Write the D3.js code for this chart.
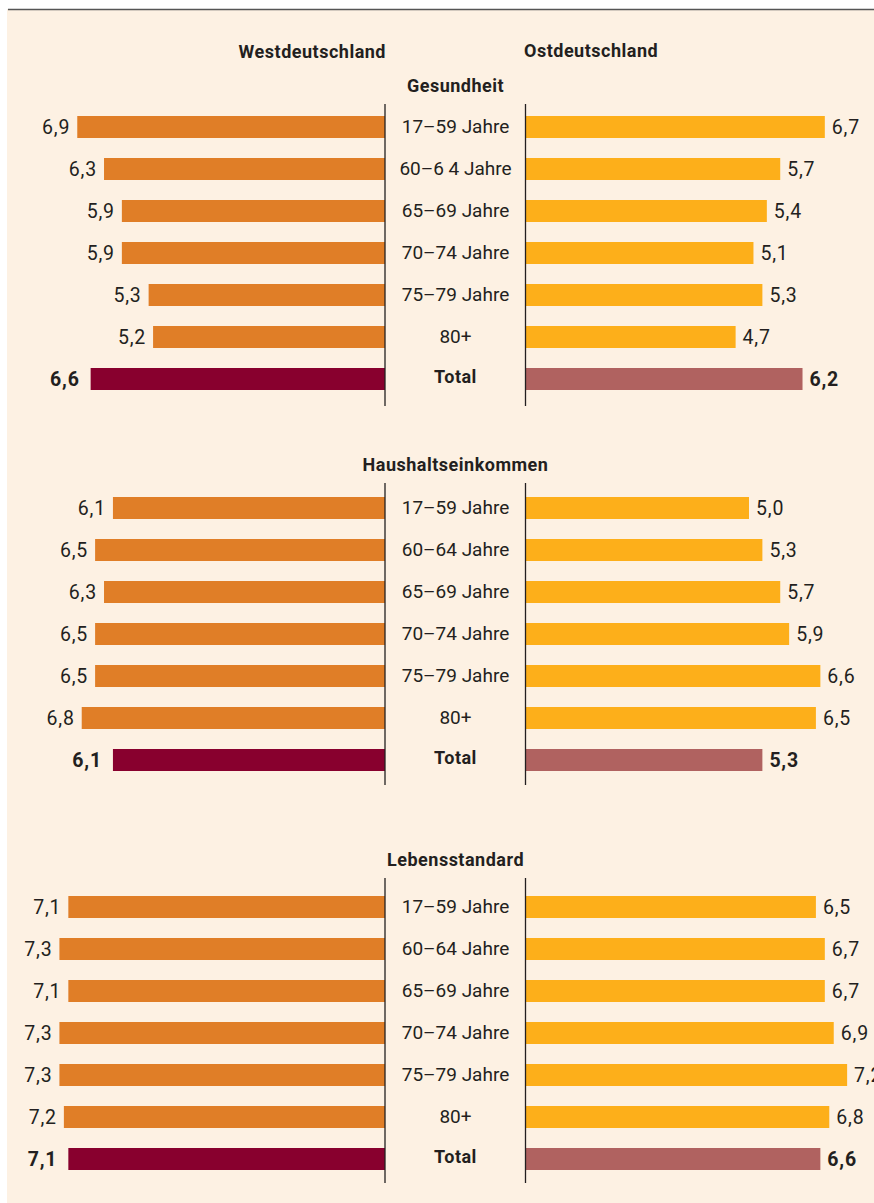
<!DOCTYPE html>
<html>
<head>
<meta charset="utf-8">
<script src="https://cdn.jsdelivr.net/npm/d3@7"></script>
<style>
  html, body { margin: 0; padding: 0; background: #fff; }
  svg { display: block; }
  text { font-family: Roboto, "DejaVu Sans", sans-serif; fill: #231f20; }
</style>
</head>
<body>
<div id="chart"></div>
<script>
// data
const panelTitles = ["Gesundheit", "Haushaltseinkommen", "Lebensstandard"];
const categoriesGesundheit = ["17–59 Jahre", "60–6 4 Jahre", "65–69 Jahre", "70–74 Jahre", "75–79 Jahre", "80+", "Total"];
const categories = ["17–59 Jahre", "60–64 Jahre", "65–69 Jahre", "70–74 Jahre", "75–79 Jahre", "80+", "Total"];

const westGesundheit = [6.9, 6.3, 5.9, 5.9, 5.3, 5.2, 6.6];
const eastGesundheit = [6.7, 5.7, 5.4, 5.1, 5.3, 4.7, 6.2];
const westEinkommen = [6.1, 6.5, 6.3, 6.5, 6.5, 6.8, 6.1];
const eastEinkommen = [5.0, 5.3, 5.7, 5.9, 6.6, 6.5, 5.3];
const westStandard = [7.1, 7.3, 7.1, 7.3, 7.3, 7.2, 7.1];
const eastStandard = [6.5, 6.7, 6.7, 6.9, 7.2, 6.8, 6.6];

const WIDTH = 874;
const HEIGHT = 1203;
const AXIS_L = 385;
const AXIS_R = 526;
const CENTER = (AXIS_L + AXIS_R) / 2;
const STEP = 42;
const BAR_H = 22;

const panels = [
  { title: panelTitles[0], cats: categoriesGesundheit, west: westGesundheit, east: eastGesundheit,
    titleY: 92, axisTop: 104, axisBottom: 406, rowTop: 116 },
  { title: panelTitles[1], cats: categories, west: westEinkommen, east: eastEinkommen,
    titleY: 471, axisTop: 483, axisBottom: 785, rowTop: 497 },
  { title: panelTitles[2], cats: categories, west: westStandard, east: eastStandard,
    titleY: 866, axisTop: 878, axisBottom: 1183, rowTop: 896 }
];

const colors = {
  west: "#e07e27",
  east: "#fdaf1a",
  westTotal: "#88002e",
  eastTotal: "#b06260"
};

const svg = d3.select("#chart")
  .append("svg")
  .attr("width", WIDTH)
  .attr("height", HEIGHT);

// cream background and the rule on top
svg.append("rect")
  .attr("x", 7).attr("y", 9)
  .attr("width", WIDTH - 7).attr("height", HEIGHT - 9)
  .attr("fill", "#fdf1e3");

svg.append("line")
  .attr("x1", 8).attr("x2", WIDTH)
  .attr("y1", 9.5).attr("y2", 9.5)
  .attr("stroke", "#555")
  .attr("stroke-width", 1.4);

// headers
svg.append("text")
  .attr("x", AXIS_L + 1).attr("y", 58)
  .attr("text-anchor", "end")
  .attr("font-size", 18).attr("font-weight", 700)
  .attr("letter-spacing", 0.5)
  .text("Westdeutschland");

svg.append("text")
  .attr("x", AXIS_R - 2).attr("y", 57)
  .attr("font-size", 18).attr("font-weight", 700)
  .attr("letter-spacing", 0.5)
  .text("Ostdeutschland");

// same px per unit on both sides
const xWest = d3.scaleLinear().domain([0, 8]).range([AXIS_L, AXIS_L - 356.8]);
const xEast = d3.scaleLinear().domain([0, 8]).range([AXIS_R, AXIS_R + 356.8]);

const fmt = v => d3.format(".1f")(v).replace(".", ",");

panels.forEach(p => {
  const g = svg.append("g");
  const n = p.cats.length;

  const y = d3.scaleBand()
    .domain(p.cats)
    .range([p.rowTop, p.rowTop + STEP * n - (STEP - BAR_H)])
    .paddingInner((STEP - BAR_H) / STEP)
    .paddingOuter(0);

  const isTotal = (d, i) => i === n - 1;

  g.append("text")
    .attr("x", CENTER).attr("y", p.titleY)
    .attr("text-anchor", "middle")
    .attr("font-size", 18).attr("font-weight", 700)
    .attr("letter-spacing", 0.5)
    .text(p.title);

  // west bars
  g.selectAll(".bw")
    .data(p.west)
    .join("rect")
    .attr("x", d => xWest(d))
    .attr("y", (d, i) => y(p.cats[i]))
    .attr("width", d => xWest(0) - xWest(d))
    .attr("height", y.bandwidth())
    .attr("fill", (d, i) => isTotal(d, i) ? colors.westTotal : colors.west);

  // east bars
  g.selectAll(".be")
    .data(p.east)
    .join("rect")
    .attr("x", xEast(0))
    .attr("y", (d, i) => y(p.cats[i]))
    .attr("width", d => xEast(d) - xEast(0))
    .attr("height", y.bandwidth())
    .attr("fill", (d, i) => isTotal(d, i) ? colors.eastTotal : colors.east);

  // value labels
  g.selectAll(".lw")
    .data(p.west)
    .join("text")
    .attr("x", (d, i) => xWest(d) - (isTotal(d, i) ? 11 : 7))
    .attr("y", (d, i) => y(p.cats[i]) + y.bandwidth() / 2 + 7)
    .attr("text-anchor", "end")
    .attr("font-size", 19.5)
    .attr("letter-spacing", 0.8)
    .attr("font-weight", (d, i) => isTotal(d, i) ? 700 : 400)
    .text(fmt);

  g.selectAll(".le")
    .data(p.east)
    .join("text")
    .attr("x", (d, i) => xEast(d) + 7)
    .attr("y", (d, i) => y(p.cats[i]) + y.bandwidth() / 2 + 7)
    .attr("font-size", 19.5)
    .attr("letter-spacing", 0.8)
    .attr("font-weight", (d, i) => isTotal(d, i) ? 700 : 400)
    .text(fmt);

  // category labels in the middle
  g.selectAll(".cat")
    .data(p.cats)
    .join("text")
    .attr("x", CENTER)
    .attr("y", (d, i) => y(d) + y.bandwidth() / 2 + (isTotal(d, i) ? 4 : 6))
    .attr("text-anchor", "middle")
    .attr("font-size", (d, i) => isTotal(d, i) ? 18 : 19)
    .attr("letter-spacing", (d, i) => isTotal(d, i) ? 0.5 : 0)
    .attr("font-weight", (d, i) => isTotal(d, i) ? 700 : 400)
    .text(d => d);

  // the two axis lines
  [AXIS_L, AXIS_R - 0.5].forEach(x => {
    g.append("line")
      .attr("x1", x).attr("x2", x)
      .attr("y1", p.axisTop).attr("y2", p.axisBottom)
      .attr("stroke", "#231f20")
      .attr("stroke-width", 1.3);
  });
});
</script>
</body>
</html>
